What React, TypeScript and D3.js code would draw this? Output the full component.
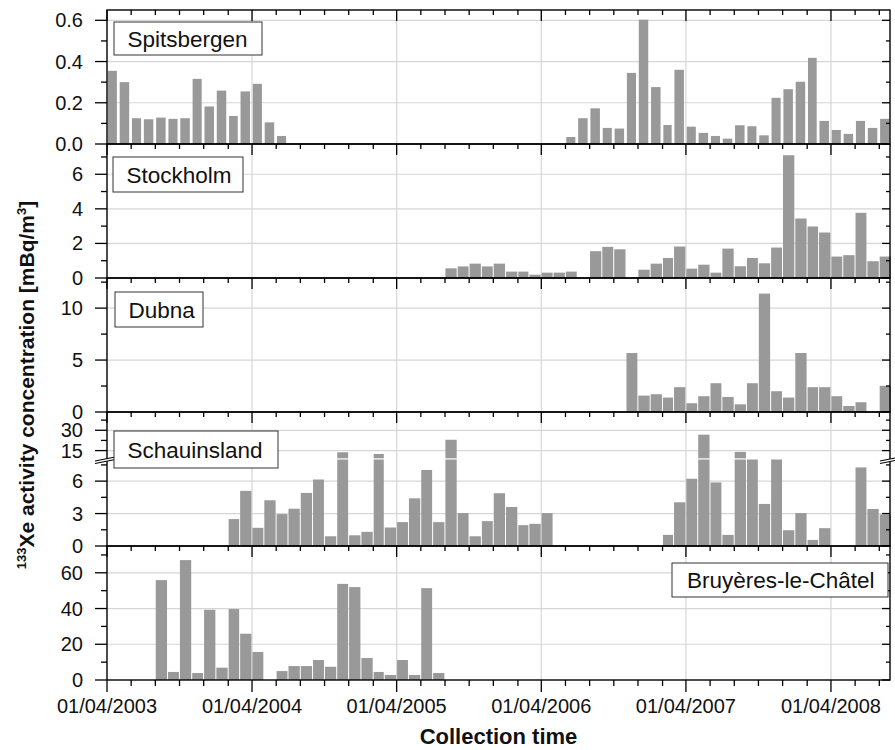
import React from 'react';
import * as d3 from 'd3';

const _ = null;

// ---- data (monthly collection periods, starting 01/04/2003, 65 months) ----
const spitsbergen = [
  0.355, 0.30, 0.125, 0.12, 0.128, 0.122, 0.125, 0.316, 0.182, 0.259, 0.136, 0.255,
  0.292, 0.105, 0.039, _, _, _, _, _, _, _, _, _,
  _, _, _, _, _, _, _, _, _, _, _, _,
  _, _, 0.034, 0.125, 0.173, 0.078, 0.075, 0.345, 0.603, 0.276, 0.092, 0.36,
  0.084, 0.054, 0.039, 0.026, 0.091, 0.086, 0.042, 0.224, 0.266, 0.302, 0.418, 0.112,
  0.068, 0.049, 0.112, 0.078, 0.122,
];
const stockholm = [
  _, _, _, _, _, _, _, _, _, _, _, _,
  _, _, _, _, _, _, _, _, _, _, _, _,
  _, _, _, _, 0.56, 0.67, 0.83, 0.67, 0.83, 0.37, 0.37, 0.19,
  0.31, 0.31, 0.37, _, 1.55, 1.80, 1.66, _, 0.48, 0.83, 1.16, 1.82,
  0.54, 0.77, 0.31, 1.70, 0.68, 1.16, 0.85, 1.76, 7.10, 3.44, 2.98, 2.63,
  1.24, 1.32, 3.77, 0.97, 1.24,
];
const dubna = [
  _, _, _, _, _, _, _, _, _, _, _, _,
  _, _, _, _, _, _, _, _, _, _, _, _,
  _, _, _, _, _, _, _, _, _, _, _, _,
  _, _, _, _, _, _, _, 5.68, 1.58, 1.71, 1.39, 2.39,
  0.84, 1.52, 2.77, 1.45, 0.74, 2.77, 11.4, 2.0, 1.39, 5.68, 2.39, 2.39,
  1.52, 0.58, 0.94, _, 2.52,
];
const schauinsland = [
  _, _, _, _, _, _, _, _, _, _, 2.49, 5.10,
  1.68, 4.23, 2.95, 3.45, 4.91, 6.15, 0.90, 13.75, 0.99, 1.31, 12.5, 1.71,
  2.21, 4.41, 7.03, 2.21, 23.0, 3.05, 0.90, 2.30, 4.88, 3.61, 1.93, 2.05,
  3.05, _, _, _, _, _, _, _, _, _, 1.03, 4.04,
  6.22, 26.75, 5.88, 1.03, 14.0, 8.5, 3.89, 8.5, 1.46, 3.05, 0.56, 1.65,
  _, _, 7.27, 3.42, 2.92,
];
const bruyeres = [
  _, _, _, _, 55.9, 4.5, 67.1, 3.9, 39.3, 6.9, 39.7, 25.9,
  15.7, _, 5.0, 7.8, 7.8, 11.2, 7.4, 53.8, 52.0, 12.3, 4.5, 2.8,
  11.2, 2.8, 51.4, 3.9, _, _, _, _, _, _, _, _,
  _, _, _, _, _, _, _, _, _, _, _, _,
  _, _, _, _, _, _, _, _, _, _, _, _,
  _, _, _, _, _,
];

const spitsbergenTicks = [0, 0.2, 0.4, 0.6];
const spitsbergenMinor = [0.1, 0.3, 0.5];
const stockholmTicks = [0, 2, 4, 6];
const stockholmMinor = [1, 3, 5, 7];
const dubnaTicks = [0, 5, 10];
const dubnaMinor = [2.5, 7.5, 12.5];
const schauLowerTicks = [0, 3, 6];
const schauLowerMinor = [1.5, 4.5, 7.5];
const schauUpperTicks = [15, 30];
const schauUpperMinor = [22.5, 37.5];
const bruyeresTicks = [0, 20, 40, 60];
const bruyeresMinor = [10, 30, 50, 70];

const stationNames = ['Spitsbergen', 'Stockholm', 'Dubna', 'Schauinsland', 'Bruyères-le-Châtel'];

// ---- layout ----
const W = 895, H = 750;
const X0 = 107, X1 = 890;
const FONT = '"Liberation Sans", Arial, Helvetica, sans-serif';
const BAR = '#999999';
const GRID = '#d6d6d6';

const startMonth = new Date(2003, 3, 1);
const endDomain = new Date(2008, 7, 28);
const months = d3.timeMonth.range(startMonth, new Date(2008, 8, 1));

export default function App() {
  const x = d3.scaleTime().domain([startMonth, endDomain]).range([X0, X1]);
  const minorX = d3.timeMonth.range(startMonth, endDomain, 2);
  const majorX = d3.timeMonth.range(startMonth, endDomain, 12);
  const fmtDate = d3.timeFormat('%d/%m/%Y');

  const panels = [
    { name: stationNames[0], values: spitsbergen, top: 10, bottom: 144, max: 0.65, ticks: spitsbergenTicks, minor: spitsbergenMinor, fmt: d3.format('.1f'), inset: 0.8, gap: 2.8, box: { x: 114, y: 22, w: 148, h: 33 } },
    { name: stationNames[1], values: stockholm, top: 144, bottom: 278, max: 7.75, ticks: stockholmTicks, minor: stockholmMinor, fmt: d3.format('d'), inset: 0.4, gap: 1.0, box: { x: 113, y: 157, w: 130, h: 35 } },
    { name: stationNames[2], values: dubna, top: 278, bottom: 412, max: 12.9, ticks: dubnaTicks, minor: dubnaMinor, fmt: d3.format('d'), inset: 0.4, gap: 1.0, box: { x: 115, y: 292, w: 88, h: 35 } },
    { name: stationNames[3], values: schauinsland, top: 412, bottom: 546, max: 8, broken: true, ticks: schauLowerTicks, minor: schauLowerMinor, fmt: d3.format('d'), inset: 0.4, gap: 1.0, box: { x: 114, y: 431, w: 164, h: 37 } },
    { name: stationNames[4], values: bruyeres, top: 546, bottom: 680, max: 75, ticks: bruyeresTicks, minor: bruyeresMinor, fmt: d3.format('d'), inset: 0.4, gap: 1.0, box: { x: 672, y: 563, w: 216, h: 34 } },
  ];

  const renderPanel = (p: any, pi: number) => {
    const breakY = 459.5;
    const y = p.broken
      ? d3.scaleLinear().domain([0, 8]).range([p.bottom, breakY])
      : d3.scaleLinear().domain([0, p.max]).range([p.bottom, p.top]);
    const yUp = d3.scaleLinear().domain([9.3, 43.5]).range([458.3, p.top]);

    const grid: any[] = [];
    majorX.slice(1).forEach((d, i) => grid.push(<line key={'gx' + i} x1={x(d)} x2={x(d)} y1={p.top} y2={p.bottom} stroke={GRID} strokeWidth={1.2} />));
    p.ticks.filter((t: number) => t > 0).forEach((t: number, i: number) => grid.push(<line key={'gy' + i} x1={X0} x2={X1} y1={y(t)} y2={y(t)} stroke={GRID} strokeWidth={1.2} />));
    if (p.broken) schauUpperTicks.forEach((t, i) => grid.push(<line key={'gu' + i} x1={X0} x2={X1} y1={yUp(t)} y2={yUp(t)} stroke={GRID} strokeWidth={1.2} />));

    const bars: any[] = [];
    p.values.forEach((v: number | null, i: number) => {
      if (v == null) return;
      const m0 = months[i];
      const m1 = d3.timeMonth.offset(m0, 1);
      const bx = x(m0) + p.inset;
      const bw = x(m1) - x(m0) - p.gap;
      if (p.broken && v > 8) {
        bars.push(<rect key={'b' + i} x={bx} y={y(8)} width={bw} height={p.bottom - y(8)} fill={BAR} />);
        if (v > 9.3) bars.push(<rect key={'bu' + i} x={bx} y={yUp(v)} width={bw} height={yUp(9.3) - yUp(v)} fill={BAR} />);
      } else {
        bars.push(<rect key={'b' + i} x={bx} y={y(v)} width={bw} height={p.bottom - y(v)} fill={BAR} />);
      }
    });

    const ticks: any[] = [];
    const yTickList: [number, boolean][] = [];
    p.ticks.forEach((t: number) => yTickList.push([y(t), true]));
    p.minor.forEach((t: number) => yTickList.push([y(t), false]));
    if (p.broken) {
      schauUpperTicks.forEach((t) => yTickList.push([yUp(t), true]));
      schauUpperMinor.forEach((t) => yTickList.push([yUp(t), false]));
    }
    yTickList.forEach(([yy, major], i) => {
      ticks.push(<line key={'tl' + i} x1={X0 - (major ? 12 : 6)} x2={X0} y1={yy} y2={yy} stroke="#000" strokeWidth={1.3} />);
      ticks.push(<line key={'tr' + i} x1={X1 - (major ? 8 : 4)} x2={X1} y1={yy} y2={yy} stroke="#000" strokeWidth={1.3} />);
    });
    minorX.forEach((d, i) => {
      const major = majorX.some((m) => +m === +d);
      ticks.push(<line key={'tt' + i} x1={x(d)} x2={x(d)} y1={p.top} y2={p.top + (major ? 11 : 5)} stroke="#000" strokeWidth={1.3} />);
      if (pi === panels.length - 1)
        ticks.push(<line key={'tb' + i} x1={x(d)} x2={x(d)} y1={p.bottom} y2={p.bottom + (major ? 12 : 6)} stroke="#000" strokeWidth={1.3} />);
    });

    const labels: any[] = [];
    p.ticks.forEach((t: number, i: number) => labels.push(
      <text key={'yl' + i} x={83} y={y(t)} dy="0.35em" textAnchor="end" fontSize={20} fontFamily={FONT} fill="#111">{p.fmt(t)}</text>
    ));
    if (p.broken) schauUpperTicks.forEach((t, i) => labels.push(
      <text key={'yu' + i} x={83} y={yUp(t)} dy="0.35em" textAnchor="end" fontSize={20} fontFamily={FONT} fill="#111">{t}</text>
    ));

    const brk: any[] = [];
    if (p.broken) {
      [X0, X1].forEach((bxp, k) => {
        const x1 = k === 0 ? bxp - 12 : bxp - 10;
        const x2 = k === 0 ? bxp + 12 : bxp + 5;
        const s = 0.2;
        const a1 = 461, a2 = 463.5;
        const yA = (xx: number, base: number) => base - (xx - x1) * s;
        brk.push(<polygon key={'bp' + k} points={`${x1},${yA(x1, a1)} ${x2},${yA(x2, a1)} ${x2},${yA(x2, a2)} ${x1},${yA(x1, a2)}`} fill="#fff" />);
        brk.push(<line key={'bl1' + k} x1={x1} y1={yA(x1, a1)} x2={x2} y2={yA(x2, a1)} stroke="#000" strokeWidth={1.1} />);
        brk.push(<line key={'bl2' + k} x1={x1} y1={yA(x1, a2)} x2={x2} y2={yA(x2, a2)} stroke="#000" strokeWidth={1.1} />);
      });
    }

    return (
      <g key={p.name}>
        {grid}
        {bars}
        <rect x={X0} y={p.top} width={X1 - X0} height={p.bottom - p.top} fill="none" stroke="#000" strokeWidth={1.4} />
        {ticks}
        {brk}
        {labels}
        <rect x={p.box.x} y={p.box.y} width={p.box.w} height={p.box.h} fill="#fff" stroke="#333" strokeWidth={1} />
        <text x={p.box.x + (pi === 4 ? 15 : 13.5)} y={p.box.y + p.box.h / 2 + 8} fontSize={22.5} fontFamily={FONT} fill="#111">{p.name}</text>
      </g>
    );
  };

  return (
    <svg width={W} height={H} style={{ position: 'absolute', left: 0, top: 0, background: '#fff' }}>
      <rect width={W} height={H} fill="#fff" />
      {panels.map(renderPanel)}
      {majorX.map((d, i) => (
        <text key={'xl' + i} x={x(d)} y={713} textAnchor="middle" fontSize={20} fontFamily={FONT} fill="#111">{fmtDate(d)}</text>
      ))}
      <text x={(X0 + X1) / 2} y={744} textAnchor="middle" fontSize={22} fontWeight="bold" fontFamily={FONT} fill="#111">Collection time</text>
      <text transform="translate(33.5,385) rotate(-90)" textAnchor="middle" fontSize={21} fontWeight="bold" fontFamily={FONT} fill="#111">
        <tspan fontSize={13} dy={-8}>133</tspan>
        <tspan dy={8}>Xe activity concentration [mBq/m</tspan>
        <tspan fontSize={13} dy={-8}>3</tspan>
        <tspan dy={8}>]</tspan>
      </text>
    </svg>
  );
}
